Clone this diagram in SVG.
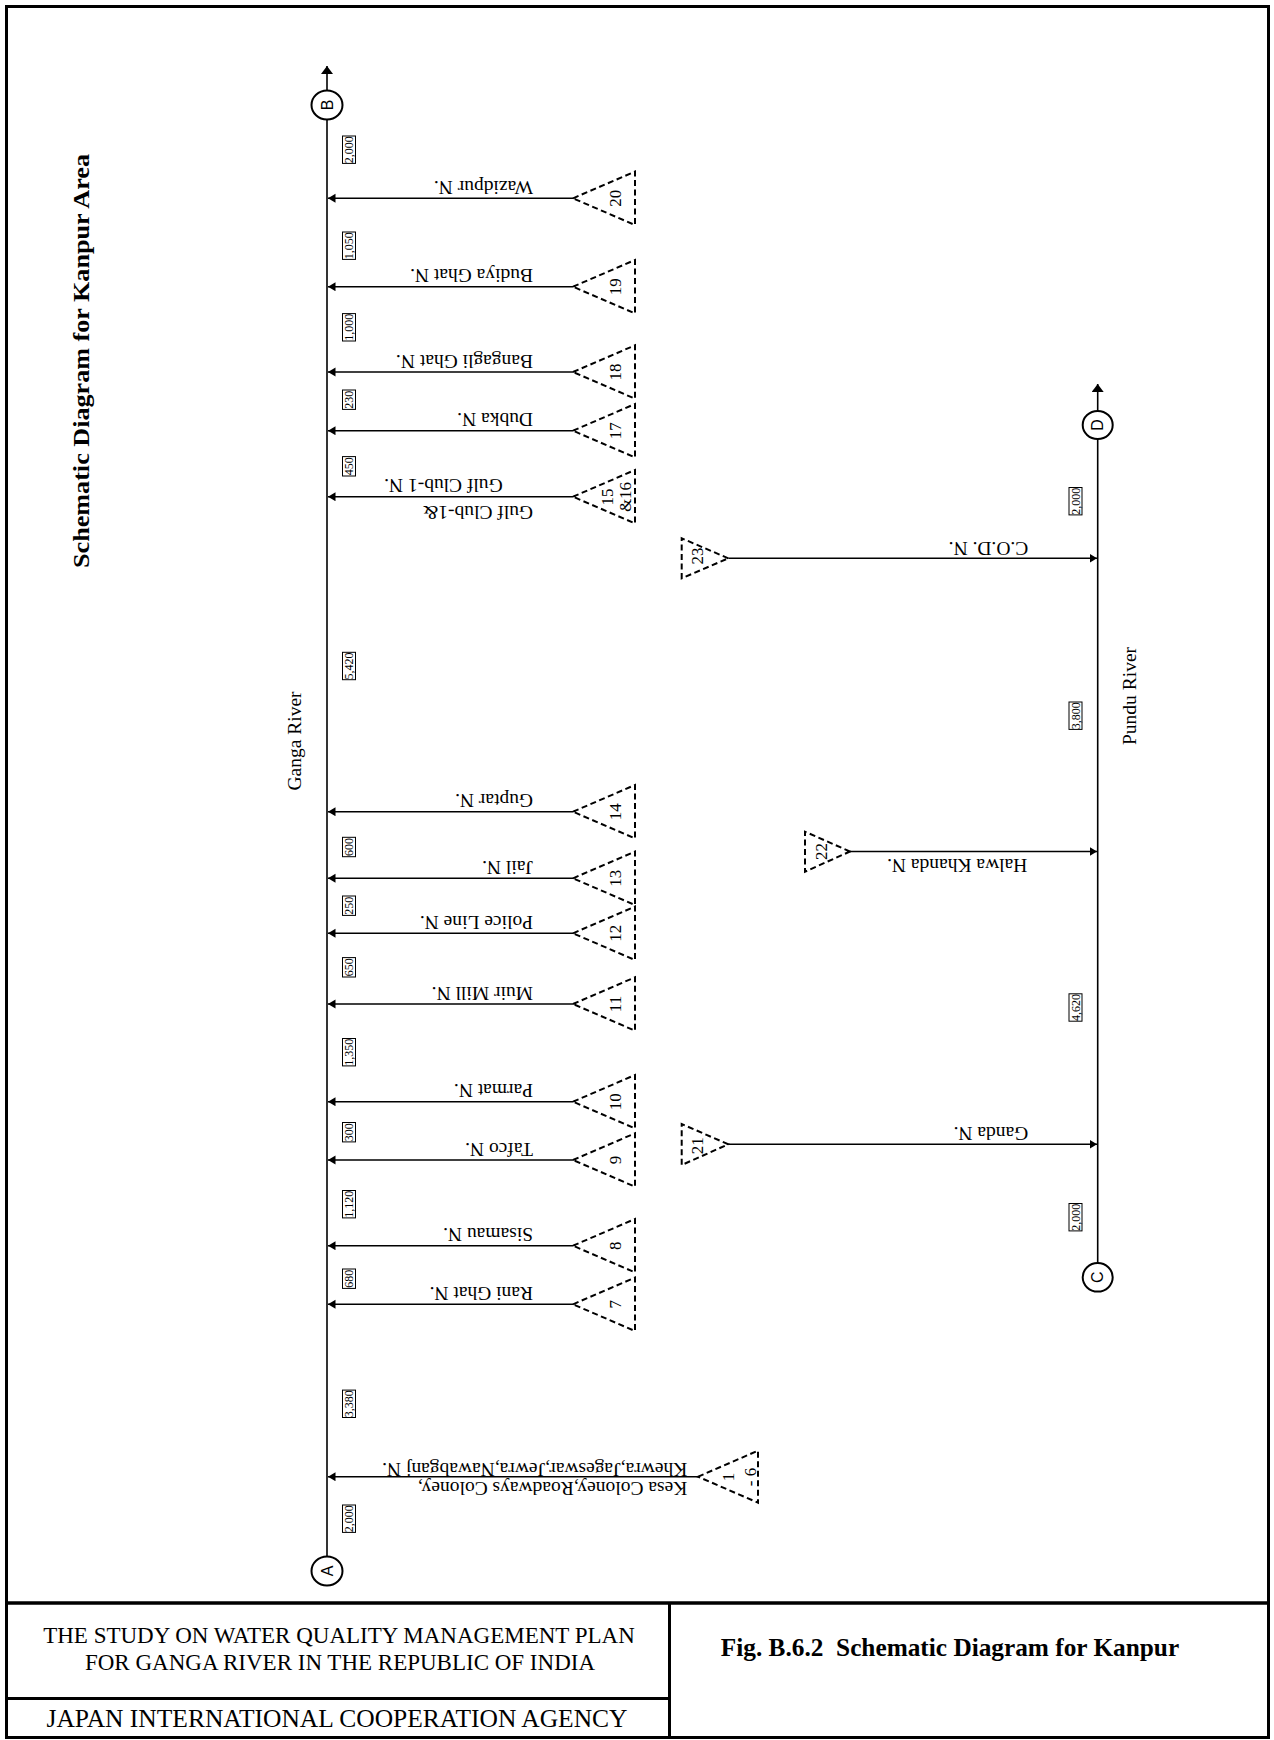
<svg xmlns="http://www.w3.org/2000/svg" width="1274" height="1740" viewBox="0 0 1274 1740">
<style>
text{font-family:"Liberation Serif","Times New Roman",serif;fill:#000}
.lbl{font-size:19.5px}
.num{font-size:17px}
.dist{font-size:12px}
.circ{font-family:"Liberation Sans",Arial,sans-serif;font-size:16px}
.tri{fill:none;stroke:#000;stroke-width:2;stroke-dasharray:6 3.5}
.flow{stroke:#000;stroke-width:1.4;fill:none;marker-end:url(#ah)}
.river{stroke:#000;stroke-width:1.6;fill:none}
.box{fill:#fff;stroke:#000;stroke-width:1}
.node{fill:#fff;stroke:#000;stroke-width:2}
.frame{fill:none;stroke:#000}
</style>
<defs>
<marker id="ah" markerUnits="userSpaceOnUse" markerWidth="8" markerHeight="10" refX="7.5" refY="4.5" orient="auto"><path d="M0,0 L7.5,4.5 L0,9 z" fill="#000"/></marker>
<marker id="ahr" markerUnits="userSpaceOnUse" markerWidth="9" markerHeight="13" refX="8" refY="6" orient="auto"><path d="M0,0 L8,6 L0,12 z" fill="#000"/></marker>
</defs>
<rect width="1274" height="1740" fill="#fff"/>
<!-- frame -->
<g id="frame">
<rect class="frame" x="6.5" y="6.5" width="1262" height="1731" stroke-width="3"/>
<line class="frame" x1="6.5" y1="1603" x2="1268.5" y2="1603" stroke-width="3.5"/>
<line class="frame" x1="669.5" y1="1603" x2="669.5" y2="1737.5" stroke-width="3"/>
<line class="frame" x1="6.5" y1="1698.5" x2="669.5" y2="1698.5" stroke-width="3"/>
</g>
<g id="title">
<text transform="translate(88.5,361) rotate(-90)" text-anchor="middle" font-weight="bold" font-size="23" textLength="414" lengthAdjust="spacingAndGlyphs">Schematic Diagram for Kanpur Area</text>
</g>
<g id="footer">
<text x="339" y="1643.3" text-anchor="middle" font-size="23">THE STUDY ON WATER QUALITY MANAGEMENT PLAN</text>
<text x="340" y="1670" text-anchor="middle" font-size="23">FOR GANGA RIVER IN THE REPUBLIC OF INDIA</text>
<text x="337" y="1727" text-anchor="middle" font-size="25.5">JAPAN INTERNATIONAL COOPERATION AGENCY</text>
<text x="950" y="1656" text-anchor="middle" font-size="25.3" font-weight="bold" xml:space="preserve">Fig. B.6.2  Schematic Diagram for Kanpur</text>
</g>
<!-- rivers -->
<g id="rivers">
<line class="river" x1="327" y1="1556.5" x2="327" y2="119.5"/>
<line class="river" x1="327" y1="90.5" x2="327" y2="66" marker-end="url(#ahr)"/>
<line class="river" x1="1097.7" y1="1263" x2="1097.7" y2="439"/>
<line class="river" x1="1097.7" y1="411" x2="1097.7" y2="384" marker-end="url(#ahr)"/>
<text class="lbl" transform="translate(301,741) rotate(-90)" text-anchor="middle">Ganga River</text>
<text class="lbl" transform="translate(1136,696) rotate(-90)" text-anchor="middle">Pundu River</text>
</g>
<!-- connectors -->
<g id="connectors">
<line class="flow" x1="573" y1="198.3" x2="328" y2="198.3"/>
<line class="flow" x1="573" y1="286.7" x2="328" y2="286.7"/>
<line class="flow" x1="573" y1="372" x2="328" y2="372"/>
<line class="flow" x1="573" y1="430.7" x2="328" y2="430.7"/>
<line class="flow" x1="573" y1="496.7" x2="328" y2="496.7"/>
<line class="flow" x1="573" y1="811.7" x2="328" y2="811.7"/>
<line class="flow" x1="573" y1="878.3" x2="328" y2="878.3"/>
<line class="flow" x1="573" y1="933.3" x2="328" y2="933.3"/>
<line class="flow" x1="573" y1="1004" x2="328" y2="1004"/>
<line class="flow" x1="573" y1="1101.7" x2="328" y2="1101.7"/>
<line class="flow" x1="573" y1="1160" x2="328" y2="1160"/>
<line class="flow" x1="573" y1="1245.7" x2="328" y2="1245.7"/>
<line class="flow" x1="573" y1="1304.3" x2="328" y2="1304.3"/>
<line class="flow" x1="698" y1="1476.7" x2="328" y2="1476.7"/>
<line class="flow" x1="728.3" y1="558.3" x2="1097" y2="558.3"/>
<line class="flow" x1="850" y1="851.5" x2="1097" y2="851.5"/>
<line class="flow" x1="728.3" y1="1144.3" x2="1097" y2="1144.3"/>
</g>
<!-- river end points -->
<g id="node-B"><ellipse class="node" cx="327" cy="105" rx="15.5" ry="14.5"/><text class="circ" transform="translate(332.7,105) rotate(-90)" text-anchor="middle">B</text></g>
<g id="node-A"><ellipse class="node" cx="327" cy="1571" rx="15.5" ry="14.5"/><text class="circ" transform="translate(332.7,1571) rotate(-90)" text-anchor="middle">A</text></g>
<g id="node-D"><ellipse class="node" cx="1097.7" cy="425" rx="15" ry="14"/><text class="circ" transform="translate(1103.4,425) rotate(-90)" text-anchor="middle">D</text></g>
<g id="node-C"><ellipse class="node" cx="1097.7" cy="1277.3" rx="15" ry="14.3"/><text class="circ" transform="translate(1103.4,1277.3) rotate(-90)" text-anchor="middle">C</text></g>
<!-- Ganga tributaries -->
<g id="trib-20"><path class="tri" d="M573,198.3 L635,171.6 L635,225 Z"/><text class="num" transform="translate(621,198.3) rotate(-90)" text-anchor="middle">20</text><text class="lbl" transform="translate(533,180.8) rotate(180)">Wazidpur N.</text></g>
<g id="trib-19"><path class="tri" d="M573,286.7 L635,260 L635,313.4 Z"/><text class="num" transform="translate(621,286.7) rotate(-90)" text-anchor="middle">19</text><text class="lbl" transform="translate(533,269.2) rotate(180)">Budiya Ghat N.</text></g>
<g id="trib-18"><path class="tri" d="M573,372 L635,345.3 L635,398.7 Z"/><text class="num" transform="translate(621,372) rotate(-90)" text-anchor="middle">18</text><text class="lbl" transform="translate(533,354.5) rotate(180)">Bangagli Ghat N.</text></g>
<g id="trib-17"><path class="tri" d="M573,430.7 L635,404 L635,457.4 Z"/><text class="num" transform="translate(621,430.7) rotate(-90)" text-anchor="middle">17</text><text class="lbl" transform="translate(533,413.2) rotate(180)">Dubka N.</text></g>
<g id="trib-15-16"><path class="tri" d="M573,496.7 L635,470 L635,523.4 Z"/><text class="num" transform="translate(613,497) rotate(-90)" text-anchor="middle">15</text><text class="num" transform="translate(630.5,497) rotate(-90)" text-anchor="middle">&amp;16</text><text class="lbl" transform="translate(533,505.7) rotate(180)">Gulf Club-1&amp;</text><text class="lbl" transform="translate(502.7,479.3) rotate(180)">Gulf Club-1 N.</text></g>
<g id="trib-14"><path class="tri" d="M573,811.7 L635,785 L635,838.4 Z"/><text class="num" transform="translate(621,811.7) rotate(-90)" text-anchor="middle">14</text><text class="lbl" transform="translate(533,794.2) rotate(180)">Guptar N.</text></g>
<g id="trib-13"><path class="tri" d="M573,878.3 L635,851.6 L635,905 Z"/><text class="num" transform="translate(621,878.3) rotate(-90)" text-anchor="middle">13</text><text class="lbl" transform="translate(533,860.8) rotate(180)">Jail N.</text></g>
<g id="trib-12"><path class="tri" d="M573,933.3 L635,906.6 L635,960 Z"/><text class="num" transform="translate(621,933.3) rotate(-90)" text-anchor="middle">12</text><text class="lbl" transform="translate(533,915.8) rotate(180)">Police Line N.</text></g>
<g id="trib-11"><path class="tri" d="M573,1004 L635,977.3 L635,1030.7 Z"/><text class="num" transform="translate(621,1004) rotate(-90)" text-anchor="middle">11</text><text class="lbl" transform="translate(533,986.5) rotate(180)">Muir Mill N.</text></g>
<g id="trib-10"><path class="tri" d="M573,1101.7 L635,1075 L635,1128.4 Z"/><text class="num" transform="translate(621,1101.7) rotate(-90)" text-anchor="middle">10</text><text class="lbl" transform="translate(533,1084.2) rotate(180)">Parmat N.</text></g>
<g id="trib-9"><path class="tri" d="M573,1160 L635,1133.3 L635,1186.7 Z"/><text class="num" transform="translate(621,1160) rotate(-90)" text-anchor="middle">9</text><text class="lbl" transform="translate(533,1142.5) rotate(180)">Tafco N.</text></g>
<g id="trib-8"><path class="tri" d="M573,1245.7 L635,1219 L635,1272.4 Z"/><text class="num" transform="translate(621,1245.7) rotate(-90)" text-anchor="middle">8</text><text class="lbl" transform="translate(533,1228.2) rotate(180)">Sisamau N.</text></g>
<g id="trib-7"><path class="tri" d="M573,1304.3 L635,1277.6 L635,1331 Z"/><text class="num" transform="translate(621,1304.3) rotate(-90)" text-anchor="middle">7</text><text class="lbl" transform="translate(533,1286.8) rotate(180)">Rani Ghat N.</text></g>
<g id="trib-1-6"><path class="tri" d="M698,1476.7 L758,1450.7 L758,1502.7 Z"/><text class="num" transform="translate(734,1477) rotate(-90)" text-anchor="middle">1</text><text class="num" transform="translate(755.5,1477) rotate(-90)" text-anchor="middle">- 6</text><text class="lbl" transform="translate(687.3,1481.7) rotate(180)">Kesa Coloney,Roadways Coloney,</text><text class="lbl" transform="translate(687.3,1462.7) rotate(180)">Khewra,Jageswar,Jewra,Nawabganj N.</text></g>
<!-- Pundu tributaries -->
<g id="trib-23"><path class="tri" d="M728.3,558.3 L681.7,538.3 L681.7,578.3 Z"/><text class="num" transform="translate(702.5,556) rotate(-90)" text-anchor="middle">23</text><text class="lbl" transform="translate(1028.3,541.7) rotate(180)">C.O.D. N.</text></g>
<g id="trib-22"><path class="tri" d="M850,851.5 L805,831.7 L805,871.7 Z"/><text class="num" transform="translate(826.5,851.5) rotate(-90)" text-anchor="middle">22</text><text class="lbl" transform="translate(1027.3,859.3) rotate(180)">Halwa Khanda N.</text></g>
<g id="trib-21"><path class="tri" d="M728.3,1144.3 L681.7,1124 L681.7,1165 Z"/><text class="num" transform="translate(703,1145.8) rotate(-90)" text-anchor="middle">21</text><text class="lbl" transform="translate(1028.3,1126.7) rotate(180)">Ganda N.</text></g>
<!-- distances -->
<g id="distances">
<rect class="box" x="342.5" y="136" width="13" height="27.4"/><text class="dist" transform="translate(353,149.7) rotate(-90)" text-anchor="middle">2,000</text>
<rect class="box" x="342.5" y="232" width="13" height="27.4"/><text class="dist" transform="translate(353,245.7) rotate(-90)" text-anchor="middle">1,050</text>
<rect class="box" x="342.5" y="313.6" width="13" height="27.4"/><text class="dist" transform="translate(353,327.3) rotate(-90)" text-anchor="middle">1,000</text>
<rect class="box" x="342.5" y="390" width="13" height="19.4"/><text class="dist" transform="translate(353,399.7) rotate(-90)" text-anchor="middle">230</text>
<rect class="box" x="342.5" y="456.6" width="13" height="19.4"/><text class="dist" transform="translate(353,466.3) rotate(-90)" text-anchor="middle">450</text>
<rect class="box" x="342.5" y="652.3" width="13" height="27.4"/><text class="dist" transform="translate(353,666) rotate(-90)" text-anchor="middle">5,420</text>
<rect class="box" x="342.5" y="837.3" width="13" height="19.4"/><text class="dist" transform="translate(353,847) rotate(-90)" text-anchor="middle">600</text>
<rect class="box" x="342.5" y="896" width="13" height="19.4"/><text class="dist" transform="translate(353,905.7) rotate(-90)" text-anchor="middle">250</text>
<rect class="box" x="342.5" y="957.6" width="13" height="19.4"/><text class="dist" transform="translate(353,967.3) rotate(-90)" text-anchor="middle">650</text>
<rect class="box" x="342.5" y="1038.5" width="13" height="27.4"/><text class="dist" transform="translate(353,1052.2) rotate(-90)" text-anchor="middle">1,350</text>
<rect class="box" x="342.5" y="1122.5" width="13" height="19.4"/><text class="dist" transform="translate(353,1132.2) rotate(-90)" text-anchor="middle">300</text>
<rect class="box" x="342.5" y="1190.5" width="13" height="27.4"/><text class="dist" transform="translate(353,1204.2) rotate(-90)" text-anchor="middle">1,120</text>
<rect class="box" x="342.5" y="1269" width="13" height="19.4"/><text class="dist" transform="translate(353,1278.7) rotate(-90)" text-anchor="middle">680</text>
<rect class="box" x="342.5" y="1390.1" width="13" height="27.4"/><text class="dist" transform="translate(353,1403.8) rotate(-90)" text-anchor="middle">3,380</text>
<rect class="box" x="342.5" y="1505" width="13" height="27.4"/><text class="dist" transform="translate(353,1518.7) rotate(-90)" text-anchor="middle">2,000</text>
<rect class="box" x="1069" y="487.5" width="13" height="27.4"/><text class="dist" transform="translate(1079.5,501.2) rotate(-90)" text-anchor="middle">2,000</text>
<rect class="box" x="1069" y="702" width="13" height="27.4"/><text class="dist" transform="translate(1079.5,715.7) rotate(-90)" text-anchor="middle">3,800</text>
<rect class="box" x="1069" y="993.8" width="13" height="27.4"/><text class="dist" transform="translate(1079.5,1007.5) rotate(-90)" text-anchor="middle">4,620</text>
<rect class="box" x="1069" y="1203.5" width="13" height="27.4"/><text class="dist" transform="translate(1079.5,1217.2) rotate(-90)" text-anchor="middle">2,000</text>
</g>
</svg>
